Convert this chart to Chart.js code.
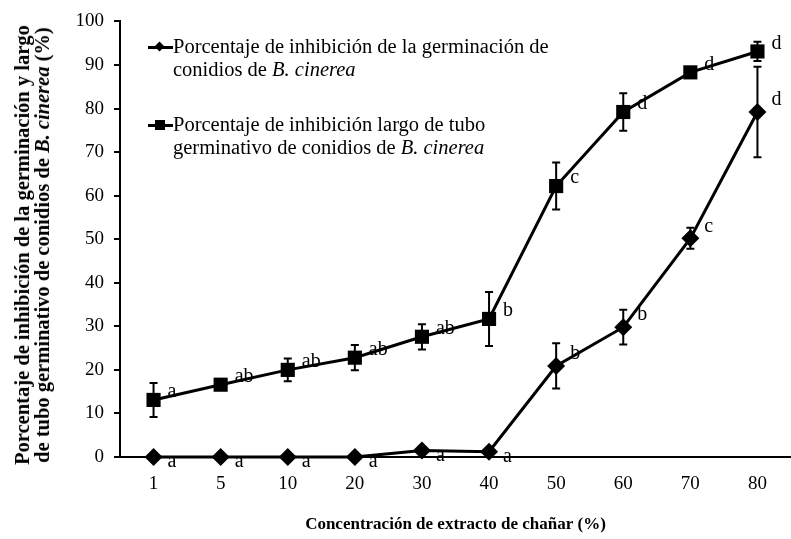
<!DOCTYPE html>
<html>
<head>
<meta charset="utf-8">
<script src="https://cdn.jsdelivr.net/npm/chart.js@4.4.1/dist/chart.umd.min.js"></script>
<style>
  html, body { margin: 0; padding: 0; background: #fff; }
  #wrap { position: relative; width: 791px; height: 539px; }
  #ytitle {
    position: absolute; left: 32px; top: 245px;
    transform: translate(-50%, -50%) rotate(-90deg);
    font: bold 20.5px 'Liberation Serif', serif; line-height: 20px;
    text-align: center; white-space: nowrap; color: #000;
  }
  .entry { position: absolute; left: 148px; font: 20.5px 'Liberation Serif', serif; line-height: 23px; color: #000; }
  .entry .txt { position: absolute; left: 25px; top: 0; white-space: nowrap; }
  .mk { position: absolute; left: 0; top: 11px; width: 25px; height: 3px; background: #000; }
  .mk .dia { position: absolute; left: 8px; top: -3px; width: 7px; height: 7px; background: #000; transform: rotate(45deg); }
  .mk .sq { position: absolute; left: 7px; top: -4px; width: 10px; height: 10px; background: #000; }
</style>
</head>
<body>
<div id="wrap">
  <canvas id="chart" width="791" height="539"></canvas>
  <div id="ytitle">Porcentaje de inhibición de la germinación y largo<br>de tubo germinativo de conidios de <i>B. cinerea</i> (%)</div>
  <div class="entry" style="top:35px"><span class="mk"><span class="dia"></span></span><div class="txt">Porcentaje de inhibición de la germinación de<br>conidios de <i>B. cinerea</i></div></div>
  <div class="entry" style="top:113px"><span class="mk"><span class="sq"></span></span><div class="txt">Porcentaje de inhibición largo de tubo<br>germinativo de conidios de <i>B. cinerea</i></div></div>
</div>
<script>
// Concentración de extracto (%)
const categories = ['1', '5', '10', '20', '30', '40', '50', '60', '70', '80'];

// Inhibición de la germinación
const germinacion = [0, 0, 0, 0, 1.5, 1.2, 20.9, 29.8, 50.2, 79.2];
const germinacionError = [0, 0, 0, 0, 0, 0, 5.2, 4.0, 2.4, 10.4];
const germinacionLetras = ['a', 'a', 'a', 'a', 'a', 'a', 'b', 'b', 'c', 'd'];

// Inhibición largo de tubo germinativo
const tubo = [13.1, 16.6, 20.0, 22.8, 27.6, 31.7, 62.2, 79.2, 88.3, 93.1];
const tuboError = [3.9, 0, 2.6, 2.9, 2.9, 6.2, 5.4, 4.3, 0, 2.2];
const tuboLetras = ['a', 'ab', 'ab', 'ab', 'ab', 'b', 'c', 'd', 'd', 'd'];

const yTicks = { min: 0, max: 100, step: 10 };

const errores = [germinacionError, tuboError];
const letras = [germinacionLetras, tuboLetras];

// error bars, drawn under the markers
const errorBars = {
    id: 'errorBars',
    beforeDatasetsDraw(chart) {
        const ctx = chart.ctx;
        const y = chart.scales.y;
        ctx.save();
        ctx.strokeStyle = '#000';
        ctx.lineWidth = 2;
        chart.data.datasets.forEach(function(ds, i) {
            chart.getDatasetMeta(i).data.forEach(function(pt, j) {
                const e = errores[i][j];
                if (!e) return;
                const top = y.getPixelForValue(ds.data[j] + e);
                const bot = y.getPixelForValue(ds.data[j] - e);
                ctx.beginPath();
                ctx.moveTo(pt.x, top); ctx.lineTo(pt.x, bot);
                ctx.moveTo(pt.x - 4, top); ctx.lineTo(pt.x + 4, top);
                ctx.moveTo(pt.x - 4, bot); ctx.lineTo(pt.x + 4, bot);
                ctx.stroke();
            });
        });
        ctx.restore();
    }
};

// significance letters next to each point
const letterLabels = {
    id: 'letterLabels',
    afterDatasetsDraw(chart) {
        const ctx = chart.ctx;
        ctx.save();
        ctx.fillStyle = '#000';
        ctx.font = "20px 'Liberation Serif', serif";
        ctx.textAlign = 'left';
        ctx.textBaseline = 'middle';
        chart.data.datasets.forEach(function(ds, i) {
            chart.getDatasetMeta(i).data.forEach(function(pt, j) {
                let dy = -8;
                if (i === 0) dy = ds.data[j] > 10 ? -12 : 5;
                ctx.fillText(letras[i][j], pt.x + 14, pt.y + dy);
            });
        });
        ctx.restore();
    }
};

new Chart(document.getElementById('chart'), {
    type: 'line',
    data: {
        labels: categories,
        datasets: [{
            label: 'Porcentaje de inhibición de la germinación de conidios de B. cinerea',
            data: germinacion,
            borderColor: '#000',
            backgroundColor: '#000',
            borderWidth: 3,
            pointStyle: 'rectRot',
            pointRadius: 9,
            pointBorderWidth: 0,
            tension: 0,
            clip: false
        }, {
            label: 'Porcentaje de inhibición largo de tubo germinativo de conidios de B. cinerea',
            data: tubo,
            borderColor: '#000',
            backgroundColor: '#000',
            borderWidth: 3,
            pointStyle: 'rect',
            pointRadius: 10,
            pointBorderWidth: 0,
            tension: 0,
            clip: false
        }]
    },
    options: {
        responsive: false,
        animation: false,
        layout: { autoPadding: false, padding: { left: 60, top: 20, right: 0, bottom: 0 } },
        plugins: {
            legend: { display: false },
            tooltip: { enabled: false }
        },
        scales: {
            x: {
                offset: true,
                grid: { display: false },
                border: { color: '#000', width: 2 },
                ticks: { color: '#000', font: { family: "'Liberation Serif', serif", size: 19 }, padding: 8 },
                title: {
                    display: true,
                    text: 'Concentración de extracto de chañar (%)',
                    color: '#000',
                    font: { family: "'Liberation Serif', serif", size: 17, weight: 'bold' },
                    padding: { top: 26 }
                },
                afterFit: function(s) { s.height = 82; }
            },
            y: {
                min: yTicks.min,
                max: yTicks.max,
                grid: { drawOnChartArea: false, color: '#000', lineWidth: 2, tickLength: 6 },
                border: { color: '#000', width: 2 },
                ticks: { stepSize: yTicks.step, color: '#000', font: { family: "'Liberation Serif', serif", size: 19 }, padding: 10 },
                afterFit: function(s) { s.width = 60; }
            }
        }
    },
    plugins: [errorBars, letterLabels]
});
</script>
</body>
</html>
